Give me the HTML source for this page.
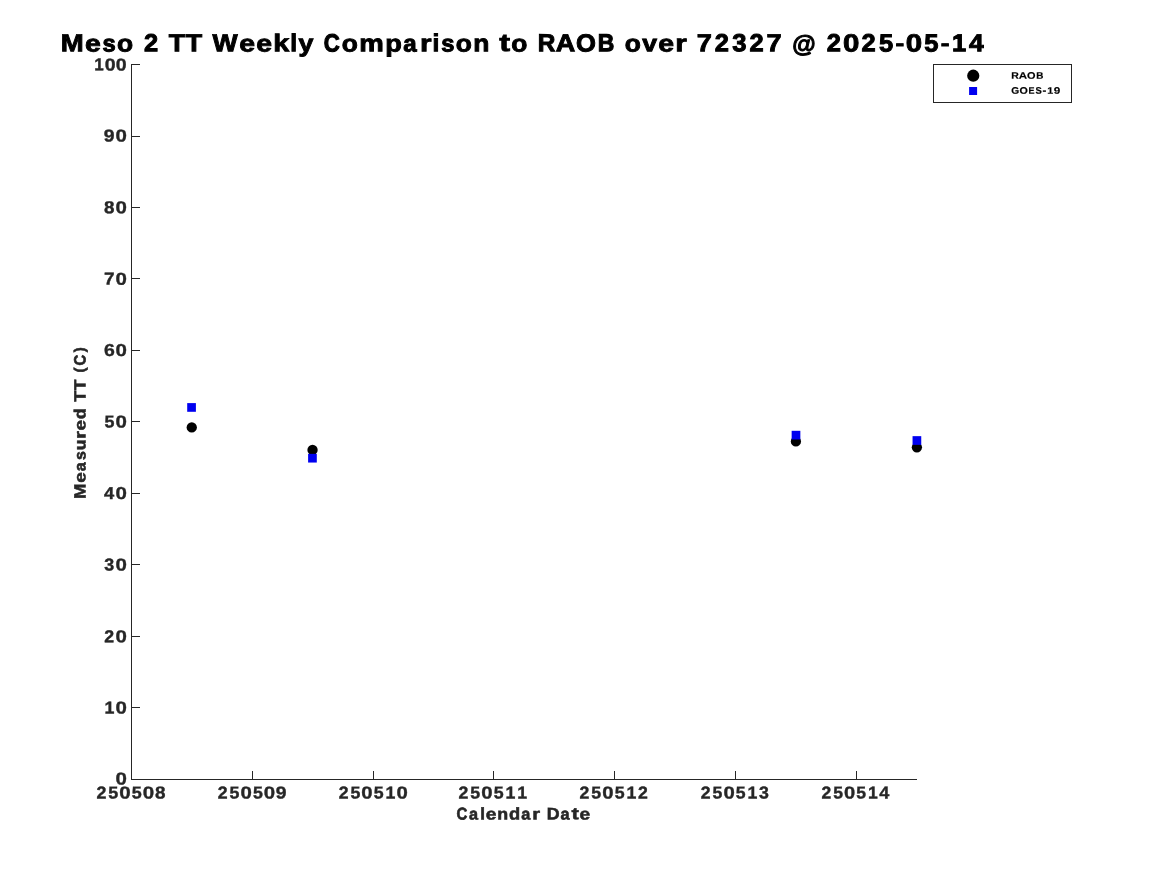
<!DOCTYPE html><html><head><meta charset="utf-8"><title>Meso 2 TT Weekly Comparison</title><style>html,body{margin:0;padding:0;background:#fff;width:1167px;height:875px;overflow:hidden}svg{display:block;will-change:transform}text{font-family:"Liberation Sans",sans-serif;font-weight:bold}</style></head><body>
<svg width="1167" height="875" viewBox="0 0 1167 875">
<rect x="0" y="0" width="1167" height="875" fill="#fff"/>
<path d="M131.5 64 V780 M131 779.5 H917" stroke="#262626" stroke-width="1" fill="none"/>
<path d="M131 64.5 H140 M131 136.5 H140 M131 207.5 H140 M131 278.5 H140 M131 350.5 H140 M131 421.5 H140 M131 493.5 H140 M131 564.5 H140 M131 636.5 H140 M131 707.5 H140 M131 779.5 H140 M252.5 779 V771 M373.5 779 V771 M493.5 779 V771 M614.5 779 V771 M735.5 779 V771 M856.5 779 V771" stroke="#262626" stroke-width="1" fill="none"/>
<g fill="#262626" stroke="#262626">
<text transform="translate(94.13 70.35) rotate(0.05) scale(0.9914 1.0000)" font-size="17.15" stroke-width="0.403">1</text>
<text transform="translate(104.63 70.42) rotate(0.05) scale(1.1403 1.0094)" font-size="17.15" stroke-width="0.351">0</text>
<text transform="translate(115.87 70.42) rotate(0.05) scale(1.1403 1.0094)" font-size="17.15" stroke-width="0.351">0</text>
<text transform="translate(103.84 141.52) rotate(0.05) scale(1.1319 1.0081)" font-size="17.15" stroke-width="0.353">9</text>
<text transform="translate(115.40 141.52) rotate(0.05) scale(1.1943 1.0094)" font-size="17.15" stroke-width="0.335">0</text>
<text transform="translate(104.08 213.18) rotate(0.05) scale(1.0960 1.0094)" font-size="17.15" stroke-width="0.365">8</text>
<text transform="translate(115.40 213.18) rotate(0.05) scale(1.1943 1.0094)" font-size="17.15" stroke-width="0.335">0</text>
<text transform="translate(103.96 284.57) rotate(0.05) scale(1.1038 1.0000)" font-size="17.15" stroke-width="0.362">7</text>
<text transform="translate(115.40 284.64) rotate(0.05) scale(1.1943 1.0094)" font-size="17.15" stroke-width="0.335">0</text>
<text transform="translate(103.98 356.09) rotate(0.05) scale(1.1342 1.0081)" font-size="17.15" stroke-width="0.353">6</text>
<text transform="translate(115.40 356.09) rotate(0.05) scale(1.1943 1.0094)" font-size="17.15" stroke-width="0.335">0</text>
<text transform="translate(104.40 427.42) rotate(0.05) scale(1.0400 1.0058)" font-size="17.15" stroke-width="0.385">5</text>
<text transform="translate(115.40 427.42) rotate(0.05) scale(1.1943 1.0094)" font-size="17.15" stroke-width="0.335">0</text>
<text transform="translate(104.12 498.94) rotate(0.05) scale(1.0693 1.0000)" font-size="17.15" stroke-width="0.374">4</text>
<text transform="translate(115.40 499.01) rotate(0.05) scale(1.1943 1.0094)" font-size="17.15" stroke-width="0.335">0</text>
<text transform="translate(104.36 570.43) rotate(0.05) scale(1.0420 1.0073)" font-size="17.15" stroke-width="0.384">3</text>
<text transform="translate(115.40 570.46) rotate(0.05) scale(1.1943 1.0094)" font-size="17.15" stroke-width="0.335">0</text>
<text transform="translate(104.36 642.25) rotate(0.05) scale(1.0358 1.0037)" font-size="17.15" stroke-width="0.386">2</text>
<text transform="translate(115.40 642.32) rotate(0.05) scale(1.1943 1.0094)" font-size="17.15" stroke-width="0.335">0</text>
<text transform="translate(104.42 713.40) rotate(0.05) scale(1.0386 1.0000)" font-size="17.15" stroke-width="0.385">1</text>
<text transform="translate(115.40 713.47) rotate(0.05) scale(1.1943 1.0094)" font-size="17.15" stroke-width="0.335">0</text>
<text transform="translate(115.40 784.52) rotate(0.05) scale(1.1943 1.0094)" font-size="17.15" stroke-width="0.335">0</text>
<text transform="translate(96.38 798.50) rotate(0.05) scale(1.0395 1.0037)" font-size="17.15" stroke-width="0.385">2</text>
<text transform="translate(108.22 798.57) rotate(0.05) scale(1.0437 1.0058)" font-size="17.15" stroke-width="0.383">5</text>
<text transform="translate(119.25 798.57) rotate(0.05) scale(1.1985 1.0094)" font-size="17.15" stroke-width="0.334">0</text>
<text transform="translate(131.81 798.57) rotate(0.05) scale(1.0437 1.0058)" font-size="17.15" stroke-width="0.383">5</text>
<text transform="translate(142.85 798.57) rotate(0.05) scale(1.1985 1.0094)" font-size="17.15" stroke-width="0.334">0</text>
<text transform="translate(155.09 798.57) rotate(0.05) scale(1.0999 1.0094)" font-size="17.15" stroke-width="0.364">8</text>
<text transform="translate(217.69 798.50) rotate(0.05) scale(1.0321 1.0037)" font-size="17.15" stroke-width="0.388">2</text>
<text transform="translate(229.44 798.57) rotate(0.05) scale(1.0362 1.0058)" font-size="17.15" stroke-width="0.386">5</text>
<text transform="translate(240.40 798.57) rotate(0.05) scale(1.1900 1.0094)" font-size="17.15" stroke-width="0.336">0</text>
<text transform="translate(252.88 798.57) rotate(0.05) scale(1.0362 1.0058)" font-size="17.15" stroke-width="0.386">5</text>
<text transform="translate(263.84 798.57) rotate(0.05) scale(1.1900 1.0094)" font-size="17.15" stroke-width="0.336">0</text>
<text transform="translate(275.76 798.57) rotate(0.05) scale(1.1278 1.0081)" font-size="17.15" stroke-width="0.355">9</text>
<text transform="translate(338.69 798.50) rotate(0.05) scale(1.0294 1.0037)" font-size="17.15" stroke-width="0.389">2</text>
<text transform="translate(350.41 798.57) rotate(0.05) scale(1.0335 1.0058)" font-size="17.15" stroke-width="0.387">5</text>
<text transform="translate(361.35 798.57) rotate(0.05) scale(1.1868 1.0094)" font-size="17.15" stroke-width="0.337">0</text>
<text transform="translate(373.79 798.57) rotate(0.05) scale(1.0335 1.0058)" font-size="17.15" stroke-width="0.387">5</text>
<text transform="translate(385.51 798.50) rotate(0.05) scale(1.0321 1.0000)" font-size="17.15" stroke-width="0.388">1</text>
<text transform="translate(396.41 798.57) rotate(0.05) scale(1.1868 1.0094)" font-size="17.15" stroke-width="0.337">0</text>
<text transform="translate(458.49 798.50) rotate(0.05) scale(1.0318 1.0037)" font-size="17.15" stroke-width="0.388">2</text>
<text transform="translate(470.24 798.57) rotate(0.05) scale(1.0359 1.0058)" font-size="17.15" stroke-width="0.386">5</text>
<text transform="translate(481.20 798.57) rotate(0.05) scale(1.1896 1.0094)" font-size="17.15" stroke-width="0.336">0</text>
<text transform="translate(493.67 798.57) rotate(0.05) scale(1.0359 1.0058)" font-size="17.15" stroke-width="0.386">5</text>
<text transform="translate(505.41 798.50) rotate(0.05) scale(1.0346 1.0000)" font-size="17.15" stroke-width="0.387">1</text>
<text transform="translate(517.13 798.50) rotate(0.05) scale(1.0346 1.0000)" font-size="17.15" stroke-width="0.387">1</text>
<text transform="translate(579.59 798.50) rotate(0.05) scale(1.0295 1.0037)" font-size="17.15" stroke-width="0.389">2</text>
<text transform="translate(591.31 798.57) rotate(0.05) scale(1.0336 1.0058)" font-size="17.15" stroke-width="0.387">5</text>
<text transform="translate(602.25 798.57) rotate(0.05) scale(1.1870 1.0094)" font-size="17.15" stroke-width="0.337">0</text>
<text transform="translate(614.69 798.57) rotate(0.05) scale(1.0336 1.0058)" font-size="17.15" stroke-width="0.387">5</text>
<text transform="translate(626.41 798.50) rotate(0.05) scale(1.0322 1.0000)" font-size="17.15" stroke-width="0.388">1</text>
<text transform="translate(638.04 798.50) rotate(0.05) scale(1.0295 1.0037)" font-size="17.15" stroke-width="0.389">2</text>
<text transform="translate(700.79 798.50) rotate(0.05) scale(1.0267 1.0037)" font-size="17.15" stroke-width="0.390">2</text>
<text transform="translate(712.48 798.57) rotate(0.05) scale(1.0308 1.0058)" font-size="17.15" stroke-width="0.388">5</text>
<text transform="translate(723.39 798.57) rotate(0.05) scale(1.1838 1.0094)" font-size="17.15" stroke-width="0.338">0</text>
<text transform="translate(735.80 798.57) rotate(0.05) scale(1.0308 1.0058)" font-size="17.15" stroke-width="0.388">5</text>
<text transform="translate(747.49 798.50) rotate(0.05) scale(1.0294 1.0000)" font-size="17.15" stroke-width="0.389">1</text>
<text transform="translate(759.09 798.54) rotate(0.05) scale(1.0328 1.0073)" font-size="17.15" stroke-width="0.387">3</text>
<text transform="translate(821.54 798.50) rotate(0.05) scale(1.0201 1.0037)" font-size="17.15" stroke-width="0.392">2</text>
<text transform="translate(833.17 798.57) rotate(0.05) scale(1.0243 1.0058)" font-size="17.15" stroke-width="0.391">5</text>
<text transform="translate(844.01 798.57) rotate(0.05) scale(1.1763 1.0094)" font-size="17.15" stroke-width="0.340">0</text>
<text transform="translate(856.34 798.57) rotate(0.05) scale(1.0243 1.0058)" font-size="17.15" stroke-width="0.391">5</text>
<text transform="translate(867.96 798.50) rotate(0.05) scale(1.0228 1.0000)" font-size="17.15" stroke-width="0.391">1</text>
<text transform="translate(879.25 798.50) rotate(0.05) scale(1.0532 1.0000)" font-size="17.15" stroke-width="0.380">4</text>
<text transform="translate(456.59 819.57) rotate(0.05) scale(0.8876 1.0101)" font-size="16.86" stroke-width="0.676">C</text>
<text transform="translate(468.90 819.58) rotate(0.05) scale(0.9637 0.9754)" font-size="16.86" stroke-width="0.623">a</text>
<text transform="translate(480.18 819.50) rotate(0.05) scale(1.0059 0.9916)" font-size="16.86" stroke-width="0.596">l</text>
<text transform="translate(485.67 819.58) rotate(0.05) scale(1.1334 0.9754)" font-size="16.86" stroke-width="0.529">e</text>
<text transform="translate(497.28 819.50) rotate(0.05) scale(1.0570 0.9661)" font-size="16.86" stroke-width="0.568">n</text>
<text transform="translate(508.97 819.57) rotate(0.05) scale(1.0861 0.9975)" font-size="16.86" stroke-width="0.552">d</text>
<text transform="translate(521.20 819.58) rotate(0.05) scale(0.9637 0.9754)" font-size="16.86" stroke-width="0.623">a</text>
<text transform="translate(532.34 819.50) rotate(0.05) scale(1.1940 0.9661)" font-size="16.86" stroke-width="0.503">r</text>
<text transform="translate(546.70 819.50) rotate(0.05) scale(1.0530 1.0000)" font-size="16.86" stroke-width="0.570">D</text>
<text transform="translate(560.49 819.58) rotate(0.05) scale(0.9637 0.9754)" font-size="16.86" stroke-width="0.623">a</text>
<text transform="translate(571.50 819.35) rotate(0.05) scale(1.3068 1.0003)" font-size="16.86" stroke-width="0.459">t</text>
<text transform="translate(579.53 819.58) rotate(0.05) scale(1.1334 0.9754)" font-size="16.86" stroke-width="0.529">e</text>
<g transform="translate(85.8 498.1) rotate(-90)">
<text transform="translate(-0.93 -0.30) rotate(0.05) scale(1.1284 1.0000)" font-size="16.28" stroke-width="0.532">M</text>
<text transform="translate(15.25 -0.23) rotate(0.05) scale(1.1612 0.9749)" font-size="16.28" stroke-width="0.517">e</text>
<text transform="translate(26.76 -0.23) rotate(0.05) scale(0.9873 0.9749)" font-size="16.28" stroke-width="0.608">a</text>
<text transform="translate(38.00 -0.23) rotate(0.05) scale(0.9756 0.9740)" font-size="16.28" stroke-width="0.615">s</text>
<text transform="translate(47.77 -0.22) rotate(0.05) scale(1.0830 0.9682)" font-size="16.28" stroke-width="0.554">u</text>
<text transform="translate(59.45 -0.30) rotate(0.05) scale(1.2230 0.9655)" font-size="16.28" stroke-width="0.491">r</text>
<text transform="translate(67.52 -0.23) rotate(0.05) scale(1.1612 0.9749)" font-size="16.28" stroke-width="0.517">e</text>
<text transform="translate(78.79 -0.23) rotate(0.05) scale(1.1128 0.9977)" font-size="16.28" stroke-width="0.539">d</text>
<text transform="translate(96.30 -0.30) rotate(0.05) scale(1.0992 1.0000)" font-size="16.28" stroke-width="0.546">T</text>
<text transform="translate(107.61 -0.30) rotate(0.05) scale(1.0992 1.0000)" font-size="16.28" stroke-width="0.546">T</text>
<text transform="translate(125.49 -1.24) rotate(0.05) scale(0.9194 0.9105)" font-size="16.28" stroke-width="0.653">(</text>
<text transform="translate(132.60 -0.23) rotate(0.05) scale(0.9094 1.0101)" font-size="16.28" stroke-width="0.660">C</text>
<text transform="translate(145.86 -1.24) rotate(0.05) scale(0.9194 0.9105)" font-size="16.28" stroke-width="0.653">)</text>
</g></g>
<g fill="#000" stroke="#000">
<text transform="translate(60.66 51.30) rotate(0.05) scale(1.1226 1.0000)" font-size="24.56" stroke-width="0.891">M</text>
<text transform="translate(85.06 51.41) rotate(0.05) scale(1.1530 0.9734)" font-size="24.56" stroke-width="0.867">e</text>
<text transform="translate(102.51 51.41) rotate(0.05) scale(0.9674 0.9725)" font-size="24.56" stroke-width="1.034">s</text>
<text transform="translate(116.98 51.41) rotate(0.05) scale(1.0723 0.9734)" font-size="24.56" stroke-width="0.933">o</text>
<text transform="translate(143.92 51.30) rotate(0.05) scale(1.0357 1.0042)" font-size="24.56" stroke-width="0.966">2</text>
<text transform="translate(168.75 51.30) rotate(0.05) scale(1.0924 1.0000)" font-size="24.56" stroke-width="0.915">T</text>
<text transform="translate(185.81 51.30) rotate(0.05) scale(1.0924 1.0000)" font-size="24.56" stroke-width="0.915">T</text>
<text transform="translate(212.47 51.30) rotate(0.05) scale(1.0830 1.0000)" font-size="24.56" stroke-width="0.923">W</text>
<text transform="translate(239.30 51.41) rotate(0.05) scale(1.1530 0.9734)" font-size="24.56" stroke-width="0.867">e</text>
<text transform="translate(256.26 51.41) rotate(0.05) scale(1.1530 0.9734)" font-size="24.56" stroke-width="0.867">e</text>
<text transform="translate(273.35 51.30) rotate(0.05) scale(1.1701 0.9919)" font-size="24.56" stroke-width="0.855">k</text>
<text transform="translate(290.27 51.30) rotate(0.05) scale(1.0003 0.9919)" font-size="24.56" stroke-width="1.000">l</text>
<text transform="translate(298.55 51.60) rotate(0.05) scale(1.0905 0.9807)" font-size="24.56" stroke-width="0.917">y</text>
<text transform="translate(323.80 51.41) rotate(0.05) scale(0.9033 1.0103)" font-size="24.56" stroke-width="1.107">C</text>
<text transform="translate(341.86 51.41) rotate(0.05) scale(1.0723 0.9734)" font-size="24.56" stroke-width="0.933">o</text>
<text transform="translate(359.26 51.30) rotate(0.05) scale(1.1232 0.9639)" font-size="24.56" stroke-width="0.890">m</text>
<text transform="translate(385.37 51.45) rotate(0.05) scale(1.1049 0.9732)" font-size="24.56" stroke-width="0.905">p</text>
<text transform="translate(403.33 51.41) rotate(0.05) scale(0.9799 0.9734)" font-size="24.56" stroke-width="1.021">a</text>
<text transform="translate(419.97 51.30) rotate(0.05) scale(1.2102 0.9639)" font-size="24.56" stroke-width="0.826">r</text>
<text transform="translate(432.55 51.30) rotate(0.05) scale(1.0003 0.9919)" font-size="24.56" stroke-width="1.000">i</text>
<text transform="translate(441.20 51.41) rotate(0.05) scale(0.9674 0.9725)" font-size="24.56" stroke-width="1.034">s</text>
<text transform="translate(455.67 51.41) rotate(0.05) scale(1.0723 0.9734)" font-size="24.56" stroke-width="0.933">o</text>
<text transform="translate(473.16 51.30) rotate(0.05) scale(1.0748 0.9639)" font-size="24.56" stroke-width="0.930">n</text>
<text transform="translate(499.24 51.08) rotate(0.05) scale(1.3259 1.0000)" font-size="24.56" stroke-width="0.754">t</text>
<text transform="translate(511.31 51.41) rotate(0.05) scale(1.0723 0.9734)" font-size="24.56" stroke-width="0.933">o</text>
<text transform="translate(537.82 51.30) rotate(0.05) scale(0.9915 1.0000)" font-size="24.56" stroke-width="1.009">R</text>
<text transform="translate(555.86 51.30) rotate(0.05) scale(1.0989 1.0000)" font-size="24.56" stroke-width="0.910">A</text>
<text transform="translate(575.96 51.41) rotate(0.05) scale(1.0403 1.0103)" font-size="24.56" stroke-width="0.961">O</text>
<text transform="translate(597.78 51.30) rotate(0.05) scale(0.9350 1.0000)" font-size="24.56" stroke-width="1.070">B</text>
<text transform="translate(624.83 51.41) rotate(0.05) scale(1.0723 0.9734)" font-size="24.56" stroke-width="0.933">o</text>
<text transform="translate(642.24 51.30) rotate(0.05) scale(1.0816 0.9576)" font-size="24.56" stroke-width="0.925">v</text>
<text transform="translate(658.24 51.41) rotate(0.05) scale(1.1530 0.9734)" font-size="24.56" stroke-width="0.867">e</text>
<text transform="translate(675.37 51.30) rotate(0.05) scale(1.2102 0.9639)" font-size="24.56" stroke-width="0.826">r</text>
<text transform="translate(696.77 51.30) rotate(0.05) scale(1.1050 1.0000)" font-size="24.56" stroke-width="0.905">7</text>
<text transform="translate(714.76 51.30) rotate(0.05) scale(1.0357 1.0042)" font-size="24.56" stroke-width="0.966">2</text>
<text transform="translate(732.15 51.37) rotate(0.05) scale(1.0431 1.0082)" font-size="24.56" stroke-width="0.959">3</text>
<text transform="translate(749.56 51.30) rotate(0.05) scale(1.0357 1.0042)" font-size="24.56" stroke-width="0.966">2</text>
<text transform="translate(766.38 51.30) rotate(0.05) scale(1.1050 1.0000)" font-size="24.56" stroke-width="0.905">7</text>
<text transform="translate(792.26 51.83) rotate(0.05) scale(0.9747 0.9628)" font-size="24.56" stroke-width="1.026">@</text>
<text transform="translate(826.78 51.30) rotate(0.05) scale(1.0357 1.0042)" font-size="24.56" stroke-width="0.966">2</text>
<text transform="translate(843.12 51.41) rotate(0.05) scale(1.1990 1.0103)" font-size="24.56" stroke-width="0.834">0</text>
<text transform="translate(861.59 51.30) rotate(0.05) scale(1.0357 1.0042)" font-size="24.56" stroke-width="0.966">2</text>
<text transform="translate(879.03 51.41) rotate(0.05) scale(1.0411 1.0063)" font-size="24.56" stroke-width="0.961">5</text>
<text transform="translate(895.62 50.15) rotate(0.05) scale(1.0691 0.8504)" font-size="24.56" stroke-width="0.935">-</text>
<text transform="translate(905.70 51.41) rotate(0.05) scale(1.1990 1.0103)" font-size="24.56" stroke-width="0.834">0</text>
<text transform="translate(924.21 51.41) rotate(0.05) scale(1.0411 1.0063)" font-size="24.56" stroke-width="0.961">5</text>
<text transform="translate(940.80 50.15) rotate(0.05) scale(1.0691 0.8504)" font-size="24.56" stroke-width="0.935">-</text>
<text transform="translate(952.06 51.30) rotate(0.05) scale(1.0374 1.0000)" font-size="24.56" stroke-width="0.964">1</text>
<text transform="translate(968.97 51.30) rotate(0.05) scale(1.0738 1.0000)" font-size="24.56" stroke-width="0.931">4</text>
<text transform="translate(1011.24 78.65) rotate(0.05) scale(1.1088 1.0000)" font-size="9.45" stroke-width="0.180">R</text>
<text transform="translate(1018.76 78.65) rotate(0.05) scale(1.2231 1.0000)" font-size="9.45" stroke-width="0.164">A</text>
<text transform="translate(1027.12 78.69) rotate(0.05) scale(1.1585 1.0093)" font-size="9.45" stroke-width="0.173">O</text>
<text transform="translate(1036.19 78.65) rotate(0.05) scale(1.0492 1.0000)" font-size="9.45" stroke-width="0.191">B</text>
<text transform="translate(1011.28 93.79) rotate(0.05) scale(1.0804 1.0093)" font-size="9.45" stroke-width="0.185">G</text>
<text transform="translate(1019.61 93.79) rotate(0.05) scale(1.1309 1.0093)" font-size="9.45" stroke-width="0.177">O</text>
<text transform="translate(1028.51 93.75) rotate(0.05) scale(0.9558 1.0000)" font-size="9.45" stroke-width="0.209">E</text>
<text transform="translate(1035.58 93.79) rotate(0.05) scale(0.9977 1.0093)" font-size="9.45" stroke-width="0.200">S</text>
<text transform="translate(1042.55 93.61) rotate(0.05) scale(1.2161 0.9825)" font-size="9.45" stroke-width="0.164">-</text>
<text transform="translate(1047.13 93.75) rotate(0.05) scale(1.1434 1.0000)" font-size="9.45" stroke-width="0.175">1</text>
<text transform="translate(1053.86 93.79) rotate(0.05) scale(1.2449 1.0080)" font-size="9.45" stroke-width="0.161">9</text>
</g>
<circle cx="191.75" cy="427.45" r="5.15" fill="#000"/>
<circle cx="312.55" cy="449.90" r="5.15" fill="#000"/>
<circle cx="795.90" cy="441.40" r="5.15" fill="#000"/>
<circle cx="916.90" cy="447.30" r="5.15" fill="#000"/>
<rect x="187.20" y="403.10" width="8.7" height="8.7" fill="#0000f0"/>
<rect x="308.10" y="453.85" width="8.7" height="8.7" fill="#0000f0"/>
<rect x="791.65" y="430.80" width="8.7" height="8.7" fill="#0000f0"/>
<rect x="912.55" y="436.15" width="8.7" height="8.7" fill="#0000f0"/>
<rect x="933.5" y="64.5" width="138" height="38" fill="none" stroke="#262626" stroke-width="1"/>
<circle cx="973.25" cy="75.70" r="6.1" fill="#000"/>
<rect x="969.10" y="87.00" width="8" height="8" fill="#0000f0"/>
</svg></body></html>
